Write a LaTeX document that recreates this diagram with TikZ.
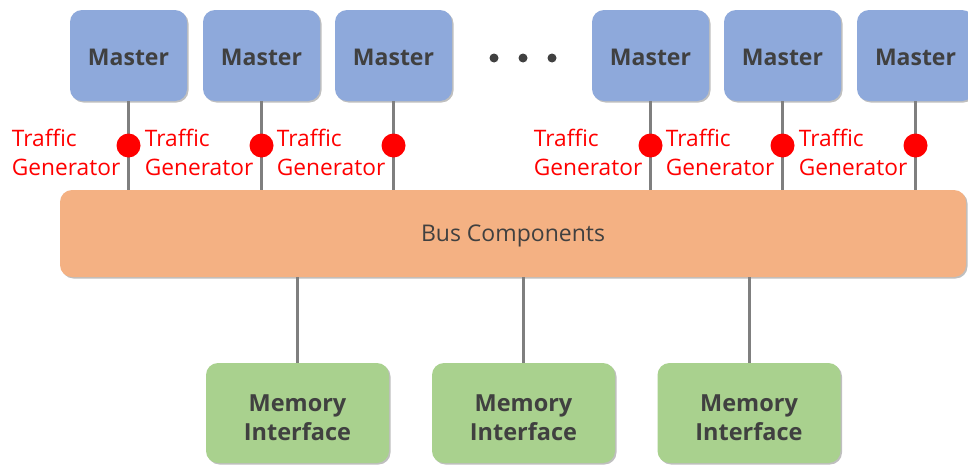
\documentclass[tikz,border=0pt]{standalone}
\usepackage{fontspec}
\setmainfont{Open Sans}
\usetikzlibrary{shadows,calc}
\definecolor{mblue}{HTML}{8EA9DB}
\definecolor{borange}{HTML}{F4B183}
\definecolor{mgreen}{HTML}{A9D18E}
\definecolor{txtgray}{HTML}{404040}
\definecolor{linegray}{HTML}{7F7F7F}
\tikzset{
  boxshadow/.style={drop shadow={shadow xshift=1.5pt, shadow yshift=-1.5pt, opacity=0.25, fill=black}},
  masterbox/.style={rounded corners=12pt, fill=mblue, boxshadow, minimum width=117pt, minimum height=91pt, inner sep=0pt, text=txtgray, font=\fontsize{23}{27}\selectfont\bfseries},
  busbox/.style={rounded corners=12pt, fill=borange, boxshadow, minimum width=906pt, minimum height=87pt, inner sep=0pt, text=txtgray, font=\fontsize{23}{27}\selectfont},
  membox/.style={rounded corners=12pt, fill=mgreen, boxshadow, minimum width=183pt, minimum height=100pt, inner sep=0pt, text=txtgray, align=center, font=\fontsize{23.5}{28.5}\selectfont\bfseries},
  conn/.style={draw=linegray, line width=3pt},
  tgdot/.style={circle, fill=red, minimum size=24pt, inner sep=0pt},
  tglabel/.style={anchor=east, align=left, text=red, inner sep=0pt, font=\fontsize{22.7}{29}\selectfont},
  ellipsisdot/.style={circle, fill=txtgray, minimum size=9pt, inner sep=0pt}
}
\begin{document}
\begin{tikzpicture}[x=1pt, y=-1pt]
\clip (0,0) rectangle (968,466);
\fill[white] (0,0) rectangle (968,466);
% masters
\node[masterbox] (m1) at (128.5,55.5) {\rule{0pt}{19.5pt}Master};
\node[masterbox] (m2) at (261.5,55.5) {\rule{0pt}{19.5pt}Master};
\node[masterbox] (m3) at (393.5,55.5) {\rule{0pt}{19.5pt}Master};
\node[masterbox] (m4) at (650.5,55.5) {\rule{0pt}{19.5pt}Master};
\node[masterbox] (m5) at (782.5,55.5) {\rule{0pt}{19.5pt}Master};
\node[masterbox] (m6) at (915.5,55.5) {\rule{0pt}{19.5pt}Master};
% ellipsis
\node[ellipsisdot] (e1) at (494,58) {};
\node[ellipsisdot] (e2) at (523,58) {};
\node[ellipsisdot] (e3) at (552,58) {};
% bus
\node[busbox] (bus) at (513,233.5) {\rule{0pt}{22pt}Bus Components};
% memories
\node[membox] (mem1) at (297.5,413) {\rule{0pt}{26pt}Memory\\Interface};
\node[membox] (mem2) at (523.5,413) {\rule{0pt}{26pt}Memory\\Interface};
\node[membox] (mem3) at (749,413) {\rule{0pt}{26pt}Memory\\Interface};
% master connectors with traffic generators
\foreach \i in {1,...,6}{
  \draw[conn] (m\i.south) -- (m\i.south |- bus.north);
  \node[tgdot] (g\i) at ($(m\i.south)!0.5!(m\i.south |- bus.north)$) {};
  \node[tglabel] (t\i) at ([xshift=-8pt, yshift=-7pt]g\i.center) {Traffic\\Generator};
}
% memory connectors
\foreach \i in {1,2,3}{
  \draw[conn] (mem\i.north) -- (mem\i.north |- bus.south);
}
\end{tikzpicture}
\end{document}
